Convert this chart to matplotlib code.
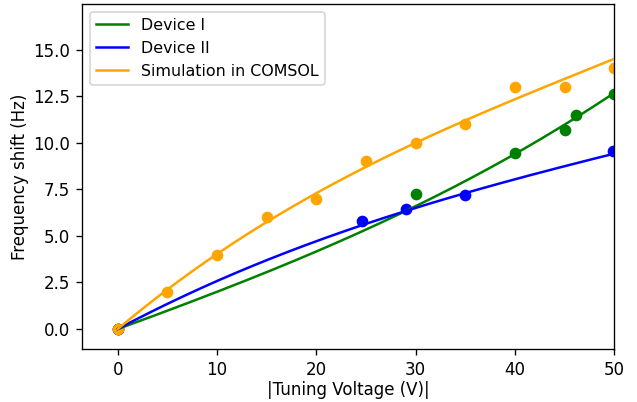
import numpy as np
import matplotlib
matplotlib.use("Agg")
import matplotlib.pyplot as plt

dev1_v = [0, 30, 40, 45, 46.2, 50]
dev1_f = [0, 7.25, 9.45, 10.7, 11.5, 12.6]

dev2_v = [0, 24.6, 29, 35, 49.9]
dev2_f = [0, 5.8, 6.44, 7.21, 9.57]

sim_v = [0, 5, 10, 15, 20, 25, 30, 35, 40, 45, 50]
sim_f = [0, 2, 4, 6, 7, 9, 10, 11, 13, 13, 14]

# cubic fit coefficients (highest power first)
dev1_fit = [1.714e-5, 3.11e-4, 0.19518, 0.0]
dev2_fit = [1.584e-5, -2.6906e-3, 0.28332, 0.0]
sim_fit = [3.3e-5, -4.8e-3, 0.4477, 0.0]

fig = plt.figure(figsize=(637 / 120, 402 / 120), dpi=120)
ax = fig.add_axes([0.1287, 0.131, 0.8355, 0.8597])

ax.scatter(dev1_v, dev1_f, color="green", s=36, zorder=2)
ax.scatter(dev2_v, dev2_f, color="blue", s=36, zorder=2)
ax.scatter(sim_v, sim_f, color="orange", s=36, zorder=2)

v = np.linspace(0, 50, 200)
for coef, col, lab in [
    (dev1_fit, "green", "Device I"),
    (dev2_fit, "blue", "Device II"),
    (sim_fit, "orange", "Simulation in COMSOL"),
]:
    ax.plot(v, np.polyval(coef, v), color=col, lw=1.5, label=lab, zorder=3)

ax.set_xlim(-3.6, 50)
ax.set_ylim(-1.09, 17.47)
ax.set_xticks([0, 10, 20, 30, 40, 50])
ax.set_yticks([0, 2.5, 5, 7.5, 10, 12.5, 15])
ax.set_xlabel("|Tuning Voltage (V)|", labelpad=1)
ax.set_ylabel("Frequency shift (Hz)", labelpad=2.5)
ax.legend(loc="upper left", fontsize=9.5)

fig.savefig("out.png", dpi=120)
